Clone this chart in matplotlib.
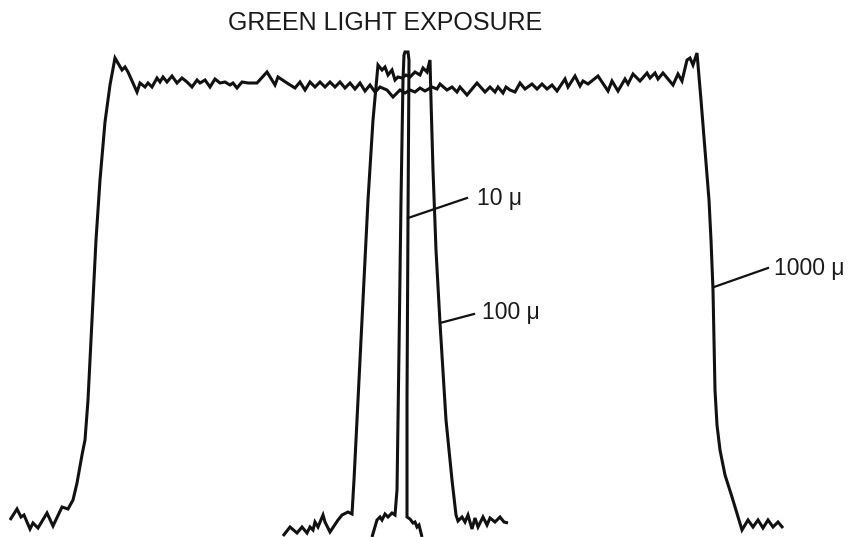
import matplotlib
matplotlib.use("Agg")
import matplotlib.pyplot as plt

# Traces (x position, signal level in image units; smaller = higher)
x_1000 = [10, 17, 21, 24, 30, 33, 38, 47, 53, 62, 68, 73, 77, 82, 85, 88, 92, 96, 100, 105, 110, 115,
          122, 125, 128, 137, 140, 145, 148, 152, 157, 160, 163, 167, 172, 177, 182, 187, 192, 197, 200,
          205, 210, 215, 220, 225, 230, 233, 237, 242, 248, 257, 267, 275, 278, 287, 295, 300, 305, 310,
          315, 320, 325, 330, 335, 340, 345, 350, 355, 360, 365, 370, 375, 380, 387, 393, 400, 405, 410,
          415, 420, 425, 432, 437, 440, 447, 452, 457, 460, 467, 477, 485, 490, 495, 498, 503, 506, 510,
          515, 520, 525, 532, 537, 542, 547, 552, 557, 565, 568, 575, 580, 583, 588, 598, 608, 612, 618,
          625, 628, 633, 640, 647, 650, 655, 658, 663, 673, 678, 682, 687, 690, 693, 697, 701, 705, 709,
          711, 713, 714, 715, 717, 720, 725, 732, 742, 748, 753, 758, 763, 768, 773, 778, 783]
y_1000 = [520, 509, 517, 515, 529, 523, 528, 513, 526, 507, 509, 500, 483, 455, 440, 400, 320, 240, 180, 122, 85, 58,
          70, 67, 72, 92, 83, 87, 83, 87, 78, 82, 77, 82, 76, 83, 78, 82, 87, 80, 83,
          80, 87, 79, 83, 82, 85, 83, 88, 82, 83, 83, 72, 85, 77, 83, 88, 82, 90, 82,
          87, 82, 87, 82, 87, 82, 88, 83, 89, 83, 91, 85, 92, 87, 90, 97, 90, 93, 90,
          92, 88, 91, 87, 89, 84, 90, 87, 92, 87, 95, 83, 92, 87, 92, 87, 93, 87, 90,
          92, 83, 89, 84, 89, 84, 89, 85, 91, 79, 87, 76, 86, 81, 84, 76, 91, 81, 91,
          79, 84, 74, 81, 73, 78, 73, 79, 73, 85, 74, 81, 60, 58, 65, 53, 100, 150, 200,
          240, 290, 340, 390, 425, 450, 475, 497, 530, 520, 527, 520, 528, 520, 527, 522, 528]

x_100 = [283, 290, 297, 302, 307, 310, 313, 315, 318, 323, 325, 330, 338, 342, 348, 352, 354, 358, 363, 368,
         373, 378, 382, 385, 388, 392, 395, 398, 402, 406, 410, 415, 420, 423, 427, 430, 431, 433, 436, 440,
         446, 452, 456, 458, 462, 465, 468, 472, 475, 478, 483, 487, 490, 495, 500, 504, 508]
y_100 = [536, 527, 533, 527, 533, 527, 530, 522, 527, 515, 522, 532, 520, 515, 512, 514, 480, 400, 300, 200,
         120, 65, 70, 67, 75, 70, 80, 77, 78, 75, 77, 72, 75, 68, 72, 60, 100, 170, 250, 323,
         420, 480, 515, 521, 517, 522, 515, 529, 518, 527, 517, 525, 518, 522, 517, 522, 523]

x_10 = [372, 377, 380, 382, 385, 388, 392, 395, 397, 399, 401, 403, 404, 405, 408, 409, 408, 407, 407,
        410, 413, 415, 417, 419, 422]
y_10 = [537, 520, 517, 520, 514, 517, 513, 515, 490, 350, 200, 80, 55, 52, 52, 60, 218, 400, 517,
        519, 523, 522, 527, 525, 537]

title = "GREEN LIGHT EXPOSURE"
labels = ["10 \u03bc", "100 \u03bc", "1000 \u03bc"]
label_anchor = [(408, 218), (440, 323), (714, 287)]
label_end = [(467, 198), (474, 314), (768, 268)]
label_text_pos = [(477, 198), (482, 313), (774, 268)]

fig = plt.figure(figsize=(8.5, 5.37), dpi=100)
ax = fig.add_axes([0, 0, 1, 1])
ax.set_xlim(0, 850)
ax.set_ylim(537, 0)
ax.axis("off")

lc = "#111111"
kw = dict(color=lc, lw=2.2, solid_joinstyle="miter", solid_capstyle="butt")
ax.plot(x_1000, y_1000, **kw)
ax.plot(x_100, y_100, **kw)
ax.plot(x_10, y_10, **kw)

for (x0, y0), (x1, y1), (tx, ty), lab in zip(label_anchor, label_end, label_text_pos, labels):
    ax.plot([x0, x1], [y0, y1], color=lc, lw=1.6)
    ax.text(tx, ty, lab, ha="left", va="center", fontsize=16.5, family="Liberation Sans", color="#1a1a1a")

ax.text(385, 23, title, ha="center", va="center", fontsize=18, family="Liberation Sans", color="#1a1a1a")

fig.savefig("out.png", dpi=100, facecolor="white")
